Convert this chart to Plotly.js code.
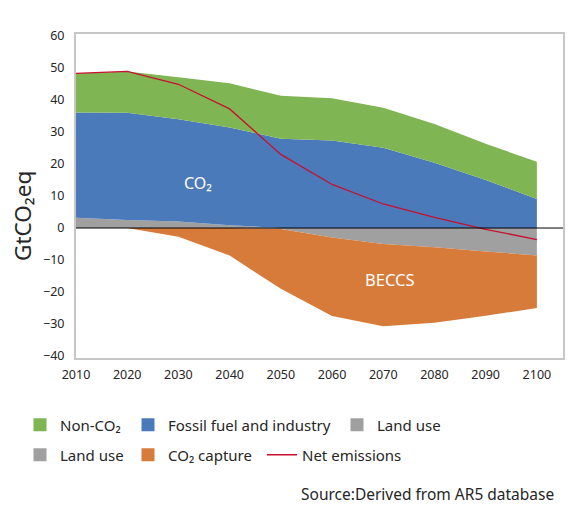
<!DOCTYPE html>
<html>
<head>
<meta charset="utf-8">
<script src="https://cdn.plot.ly/plotly-3.0.1.min.js"></script>
<style>
html,body{margin:0;padding:0;background:#fff;}
#chart{width:579px;height:523px;}
#err{position:absolute;left:80px;top:40px;font:9px monospace;white-space:pre-wrap;width:480px;color:#000;}
</style>
</head>
<body>
<div id="chart"></div>
<div id="err"></div>
<script>
// ---- data (GtCO2eq) ----
var years = [2010, 2020, 2030, 2040, 2050, 2060, 2070, 2080, 2090, 2100];
var landUsePos = [3.2, 2.5, 2.0, 0.9, 0, 0, 0, 0, 0, 0];
var fossilFuel = [32.9, 33.5, 32.0, 30.5, 27.9, 27.3, 25.1, 20.4, 15.0, 9.1];
var nonCO2 = [12.2, 12.9, 13.1, 13.8, 13.4, 13.2, 12.5, 12.1, 11.3, 11.6];
var landUseNeg = [0, 0, 0, 0, -0.3, -3.0, -5.0, -6.0, -7.3, -8.6];
var co2Capture = [0, 0, -2.7, -8.6, -18.7, -24.5, -25.7, -23.6, -20.1, -16.4];
var netEmissions = [48.3, 48.9, 44.9, 37.2, 23.0, 13.6, 7.5, 3.3, -0.4, -3.6];
var yTicks = [-40, -30, -20, -10, 0, 10, 20, 30, 40, 50, 60];

var FONT = "Noto Sans, Open Sans, sans-serif";
var W = 579, H = 523;
var C_GREEN = '#80b554', C_BLUE = '#4a7aba', C_GRAY = '#a0a0a0', C_ORANGE = '#d67b39', C_RED = '#c8102e';

function area(name, y, color, group) {
  return { x: years, y: y, name: name, type: 'scatter', mode: 'none',
    stackgroup: group, fillcolor: color, line: {width: 0}, showlegend: false };
}
// legend-only swatch entries (no data drawn)
function swatch(name, color, legendId) {
  return { x: [null], y: [null], name: name, type: 'scatter', mode: 'markers',
    marker: {color: color, symbol: 'square', size: 13, line: {width: 0}},
    legend: legendId, showlegend: true, hoverinfo: 'skip' };
}

var traces = [
  area('Land use', landUsePos, C_GRAY, 'pos'),
  area('Fossil fuel and industry', fossilFuel, C_BLUE, 'pos'),
  area('Non-CO₂', nonCO2, C_GREEN, 'pos'),
  area('Land use', landUseNeg, C_GRAY, 'neg'),
  area('CO₂ capture', co2Capture, C_ORANGE, 'neg'),
  { x: years, y: netEmissions, name: 'Net emissions', type: 'scatter',
    mode: 'lines', line: {color: C_RED, width: 1.3}, legend: 'legend6' },
  swatch('Non-CO₂', C_GREEN, 'legend'),
  swatch('Fossil fuel and industry', C_BLUE, 'legend2'),
  swatch('Land use', C_GRAY, 'legend3'),
  swatch('Land use', C_GRAY, 'legend4'),
  swatch('CO₂ capture', C_ORANGE, 'legend5')
];

function leg(px, py) {
  return { xref: 'container', yref: 'container', x: px / W, y: 1 - py / H,
    xanchor: 'left', yanchor: 'middle', bgcolor: 'rgba(0,0,0,0)', borderwidth: 0,
    font: {family: FONT, size: 15, color: '#262626'} };
}

var layout = {
  width: W, height: H,
  paper_bgcolor: '#ffffff', plot_bgcolor: '#ffffff',
  margin: {l: 76, r: 16, t: 34, b: 165, autoexpand: false},
  font: {family: FONT, color: '#262626'},
  xaxis: { range: [2010, 2105.1], tickvals: years, showgrid: false, zeroline: false,
    showline: true, mirror: true, linecolor: '#c6c6c6', linewidth: 2,
    ticks: 'outside', ticklen: 4, tickcolor: 'rgba(0,0,0,0)',
    tickfont: {family: FONT, size: 12.5, color: '#262626'} },
  yaxis: { range: [-40.6, 60.6], tickvals: yTicks, showgrid: false, zeroline: false,
    showline: true, mirror: true, linecolor: '#c6c6c6', linewidth: 2,
    ticks: 'outside', ticklen: 7, tickcolor: 'rgba(0,0,0,0)',
    tickfont: {family: FONT, size: 12.5, color: '#262626'} },
  shapes: [{ type: 'line', xref: 'paper', yref: 'y', x0: 0, x1: 1, y0: 0, y1: 0,
    line: {color: '#000000', width: 1}, layer: 'above' }],
  annotations: [
    {xref: 'paper', yref: 'paper', x: -(76 - 22) / (W - 76 - 16), y: (358 - 216) / (358 - 34),
     xanchor: 'center', yanchor: 'middle', textangle: -90, text: 'GtCO₂eq', showarrow: false,
     font: {family: FONT, size: 22.5, color: '#262626'}},
    {xref: 'x', yref: 'y', x: 2033.8, y: 14, text: 'CO₂', showarrow: false,
     font: {family: FONT, size: 16, color: '#ffffff'}},
    {xref: 'x', yref: 'y', x: 2071.3, y: -16, text: 'BECCS', showarrow: false,
     font: {family: FONT, size: 16.5, color: '#ffffff'}},
    {xref: 'paper', yref: 'paper', x: (556 - 76) / (W - 76 - 16), y: -(494 - 358) / (358 - 34),
     xanchor: 'right', yanchor: 'middle', text: 'Source:Derived from AR5 database', showarrow: false,
     font: {family: FONT, size: 15.5, color: '#262626'}}
  ],
  legend: leg(20, 425), legend2: leg(128, 425), legend3: leg(337, 425),
  legend4: leg(20, 455), legend5: leg(128, 455), legend6: leg(262, 455),
  showlegend: true
};

try {
  Plotly.newPlot('chart', traces, layout, {displayModeBar: false}).catch(function(e){
    document.getElementById('err').textContent += 'P: ' + e.message;
  });
} catch (e) {
  document.getElementById('err').textContent += 'T: ' + e.message;
}
</script>
</body>
</html>
